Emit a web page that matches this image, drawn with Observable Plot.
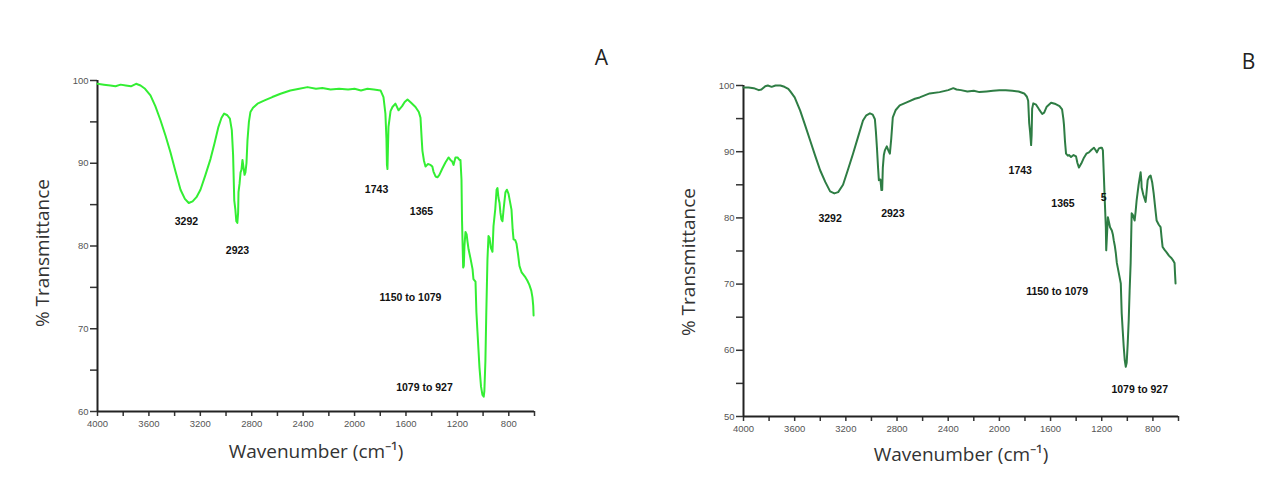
<!DOCTYPE html>
<html><head><meta charset="utf-8">
<script src="https://cdn.jsdelivr.net/npm/d3@7"></script>
<script src="https://cdn.jsdelivr.net/npm/@observablehq/plot@0.6"></script>
<style>
body{margin:0;background:#fff;}
#wrap{position:relative;width:1268px;height:500px;overflow:hidden;}
#a,#b{position:absolute;top:0;}
#a{left:0px} #b{left:634px}
</style></head><body><div id="wrap"><div id="a"></div><div id="b"></div></div>
<script>
// ---- Panel A data (wavenumber cm-1, % transmittance) ----
const wnA = [4000,3950,3900,3860,3820,3780,3740,3700,3665,3630,3588,3550,3510,3470,3432,3393,3354,3320,3290,3260,3230,3199,3160,3121,3090,3059,3035,3015,2990,2970,2955,2945,2936,2928,2920,2912,2906,2903,2895,2887,2880,2872,2864,2856,2849,2841,2833,2822,2810,2790,2755,2700,2640,2576,2500,2430,2366,2300,2250,2187,2120,2050,2000,1950,1900,1850,1798,1775,1760,1752,1748,1744,1740,1736,1720,1705,1682,1658,1630,1610,1588,1560,1526,1500,1487,1478,1472,1460,1448,1430,1409,1395,1386,1370,1355,1340,1316,1293,1269,1254,1240,1230,1215,1199,1184,1176,1168,1164,1160,1155,1150,1145,1137,1128,1121,1113,1098,1082,1075,1059,1052,1044,1036,1028,1016,1005,995,990,982,975,966,958,950,940,927,919,905,895,888,880,872,865,857,849,840,826,815,802,790,779,770,763,750,740,728,717,700,685,670,655,640,625,616,610,607];
const tA = [99.6,99.5,99.4,99.3,99.5,99.4,99.3,99.6,99.4,99.0,98.2,96.9,95.2,93.3,91.3,89.0,86.8,85.7,85.2,85.4,85.9,86.8,88.6,90.5,92.4,94.4,95.5,96.0,95.8,95.4,94.0,91.0,85.5,84.5,83.0,82.8,84.0,86.5,87.5,88.9,89.2,90.4,89.5,88.6,88.9,90.0,92.8,95.0,96.2,96.7,97.2,97.6,98.0,98.4,98.8,99.0,99.2,99.0,99.1,98.9,99.0,98.9,99.0,98.8,99.0,98.9,98.8,98.0,96.0,93.0,89.8,89.3,92.0,94.4,96.3,96.8,97.2,96.4,96.9,97.4,97.7,97.3,96.8,96.2,95.5,93.0,91.5,90.3,89.6,89.9,89.8,89.6,89.0,88.4,88.3,88.6,89.4,90.1,90.7,90.4,90.2,89.8,90.7,90.7,90.4,90.4,88.0,83.2,80.5,77.4,77.6,80.0,81.7,81.4,80.5,79.6,78.5,77.2,76.0,75.7,72.0,69.7,67.5,65.3,63.0,62.0,61.8,62.5,66.1,72.0,78.4,81.2,81.0,79.8,79.3,82.4,84.5,86.8,87.0,85.8,85.2,84.0,83.2,83.0,84.5,86.5,86.8,86.3,85.3,84.4,82.0,80.8,80.7,80.3,79.0,77.6,76.8,76.5,76.2,75.8,75.3,74.6,73.8,72.8,71.6];

// ---- Panel B data ----
const wnB = [4000,3960,3920,3880,3860,3830,3810,3780,3750,3712,3680,3650,3634,3600,3557,3520,3479,3440,3401,3360,3323,3290,3260,3222,3185,3144,3105,3066,3040,3012,2990,2973,2965,2957,2948,2942,2930,2922,2916,2911,2903,2895,2880,2870,2856,2845,2833,2810,2779,2720,2660,2623,2545,2467,2400,2360,2335,2300,2250,2200,2156,2100,2050,2000,1950,1899,1850,1806,1785,1775,1767,1760,1752,1748,1744,1735,1713,1690,1665,1650,1630,1596,1560,1530,1510,1500,1495,1487,1479,1465,1456,1440,1420,1401,1390,1378,1360,1339,1320,1300,1280,1261,1250,1238,1222,1207,1199,1191,1184,1175,1168,1165,1160,1152,1145,1135,1121,1113,1106,1098,1090,1082,1065,1051,1044,1036,1028,1020,1012,1005,997,989,982,974,966,958,943,935,927,912,896,890,888,875,857,849,841,830,818,805,794,782,771,755,740,732,724,710,693,675,654,640,631,627,623];
const tB = [99.7,99.7,99.6,99.3,99.4,99.9,100.0,99.8,100.0,100.0,99.8,99.5,99.1,98.2,96.2,94.1,91.7,89.4,87.2,85.4,84.0,83.7,83.9,85.0,87.2,89.7,92.2,94.7,95.5,95.8,95.6,94.9,93.0,90.6,87.5,85.7,85.8,84.2,84.2,87.6,89.5,90.2,90.8,90.3,89.7,92.0,95.2,96.3,97.0,97.5,98.0,98.2,98.8,99.0,99.3,99.6,99.4,99.3,99.1,99.2,99.0,99.1,99.2,99.3,99.3,99.2,99.1,98.8,98.3,97.7,94.3,93.0,91.0,92.5,96.5,97.3,97.1,96.4,95.7,95.9,96.8,97.4,97.2,96.9,96.4,95.0,94.0,91.5,89.7,89.4,89.5,89.2,89.5,89.3,88.3,87.6,88.2,89.1,89.7,89.9,90.3,90.6,90.3,89.9,90.5,90.6,90.6,90.2,86.7,82.0,78.6,75.1,77.0,80.1,79.5,78.6,78.1,77.5,76.6,75.8,74.7,73.2,71.5,70.1,65.6,63.0,60.5,58.5,57.5,58.1,61.0,64.6,69.0,73.2,80.7,80.5,79.6,81.0,82.7,85.0,86.9,85.5,84.6,83.5,82.4,84.0,85.7,86.2,86.4,85.3,83.7,81.5,79.6,79.0,78.6,77.0,75.6,75.2,74.8,74.3,73.9,73.5,73.2,71.5,70.1];

// ---- Annotations ----
const annA = ["3292","2923","1743","1365","1150 to 1079","1079 to 927"];
const annAx = [3308,2911,1829,1479,1565,1456];
const annAy = [82.9,79.4,86.8,84.1,73.8,62.9];
const annB = ["3292","2923","1743","1365","1150 to 1079","1079 to 927","5"];
const annBx = [3323,2833,1837,1503,1549,903,1184];
const annBy = [79.9,80.7,87.2,82.2,68.8,54.1,83.1];

// ---- Axis ticks ----
const xTicks = [4000,3800,3600,3400,3200,3000,2800,2600,2400,2200,2000,1800,1600,1400,1200,1000,800,600];
const yTicksA = [60,65,70,75,80,85,90,95,100];
const yTicksB = [50,55,60,65,70,75,80,85,90,95,100];
const yLabel = "% Transmittance";
const xLabel = "Wavenumber (cm⁻¹)";

function panel(o) {
  const data = o.wn.map((w, i) => ({wn: w, t: o.t[i]}));
  const ann = o.ann.map((s, i) => ({text: s, x: o.annX[i], y: o.annY[i]}));
  return Plot.plot({
    width: 634, height: 500,
    marginLeft: o.ml, marginRight: o.mr, marginTop: o.mt, marginBottom: o.mb,
    style: {fontFamily: "'Liberation Sans', Arial, sans-serif", background: "white", overflow: "visible"},
    x: {domain: [4000, 600]},
    y: {domain: o.yDomain},
    marks: [
      Plot.axisY({ticks: o.yTicks, tickSize: 7, tickPadding: 2, tickFormat: d => d % 10 === 0 ? String(d) : "", fontSize: 9.5, color: "#555", stroke: "#333", strokeWidth: 1.5, label: null}),
      Plot.axisX({ticks: xTicks, tickSize: 5, tickPadding: 4, tickFormat: d => d % 400 === 0 ? String(d) : "", fontSize: 9.5, color: "#555", stroke: "#333", strokeWidth: 1.5, label: null}),
      Plot.ruleX([4000], {stroke: "#222", strokeWidth: 2}),
      Plot.ruleY([o.yDomain[0]], {stroke: "#222", strokeWidth: 2}),
      Plot.line(data, {x: "wn", y: "t", stroke: o.color, strokeWidth: 2}),
      Plot.text(ann, {x: "x", y: "y", text: "text", fontWeight: "bold", fontSize: 10.5, fill: "#111"}),
      Plot.text([yLabel], {text: d => d, frameAnchor: "left", textAnchor: "middle", rotate: -90, dx: -55, dy: o.ylDy, fontSize: 19, fill: "#333", fontFamily: "'Open Sans', sans-serif"}),
      Plot.text([xLabel], {text: d => d, frameAnchor: "bottom", textAnchor: "middle", dy: o.xlDy, fontSize: 19, fill: "#333", fontFamily: "'Open Sans', sans-serif"}),
      Plot.text([o.letter], {text: d => d, frameAnchor: "top-right", textAnchor: "middle", dx: o.lx, dy: o.ly, fontSize: 21, fill: "#222", fontFamily: "'Open Sans', sans-serif"})
    ]
  });
}

document.getElementById("a").appendChild(panel({
  wn: wnA, t: tA, color: "#33ee33", yDomain: [60, 100], yTicks: yTicksA,
  ml: 97, mr: 100, mt: 80, mb: 89,
  ann: annA, annX: annAx, annY: annAy,
  ylDy: 7, xlDy: 46, letter: "A", lx: 67, ly: -30
}));
document.getElementById("b").appendChild(panel({
  wn: wnB, t: tB, color: "#2e7d44", yDomain: [50, 100], yTicks: yTicksB,
  ml: 109, mr: 90, mt: 85, mb: 84,
  ann: annB, annX: annBx, annY: annBy,
  ylDy: 11, xlDy: 44, letter: "B", lx: 70, ly: -31
}));
</script></body></html>
